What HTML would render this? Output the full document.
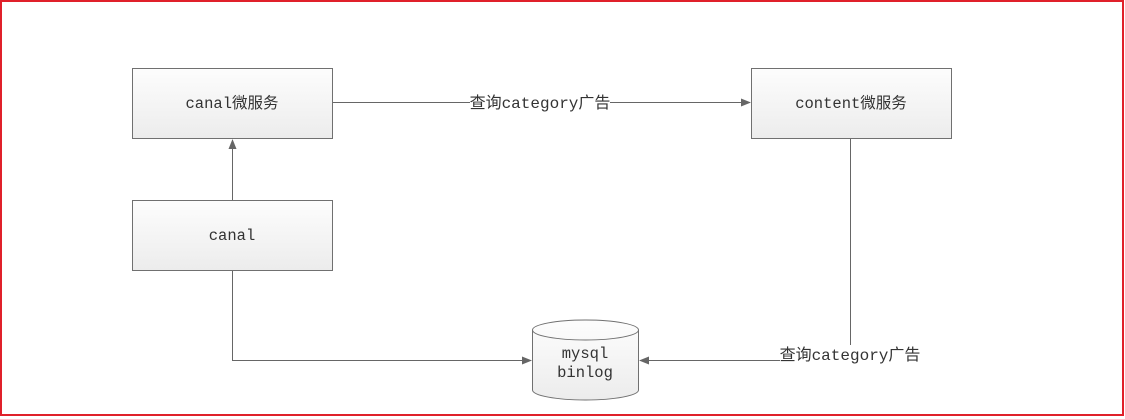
<!DOCTYPE html>
<html><head><meta charset="utf-8"><style>
body{margin:0;width:1125px;height:419px;background:#fff;overflow:hidden}
</style></head><body>
<svg width="1125" height="419" xmlns="http://www.w3.org/2000/svg" style="position:absolute;left:0;top:0">
<defs>
<linearGradient id="g" x1="0" y1="0" x2="0" y2="1"><stop offset="0" stop-color="#fdfdfd"/><stop offset="1" stop-color="#ececec"/></linearGradient>
<marker id="a" markerWidth="10" markerHeight="8" refX="9" refY="4" orient="auto" markerUnits="userSpaceOnUse"><path d="M0,0 L10,4 L0,8 Z" fill="#666"/></marker>
</defs>
<rect x="1" y="1" width="1122" height="414" fill="none" stroke="#e0202a" stroke-width="2"/>
<g fill="url(#g)" stroke="#707070" stroke-width="1">
<rect x="132.5" y="68.5" width="200" height="70"/>
<rect x="751.5" y="68.5" width="200" height="70"/>
<rect x="132.5" y="200.5" width="200" height="70"/>
<path d="M532.5,330 A53,10 0 0 1 638.5,330 L638.5,390 A53,10 0 0 1 532.5,390 Z"/>
<path d="M532.5,330 A53,10 0 0 0 638.5,330" fill="none"/>
</g>
<g stroke="#666" stroke-width="1" fill="none">
<path d="M333,102.5 H470"/>
<path d="M610,102.5 H750" marker-end="url(#a)"/>
<path d="M232.5,200 V140" marker-end="url(#a)"/>
<path d="M232.5,271 V360.5 H531" marker-end="url(#a)"/>
<path d="M850.5,139 V345"/>
<path d="M780,360.5 H640" marker-end="url(#a)"/>
</g>
<g font-family="'Liberation Mono','Noto Sans CJK SC',monospace" font-size="15.5" fill="#333" text-anchor="middle">
<text x="232" y="108">canal微服务</text>
<text x="851" y="108">content微服务</text>
<text x="232" y="240">canal</text>
<text x="540" y="108" font-size="16">查询category广告</text>
<text x="850" y="360" font-size="16">查询category广告</text>
<text x="585" y="358">mysql</text>
<text x="585" y="377">binlog</text>
</g>
</svg>
</body></html>
